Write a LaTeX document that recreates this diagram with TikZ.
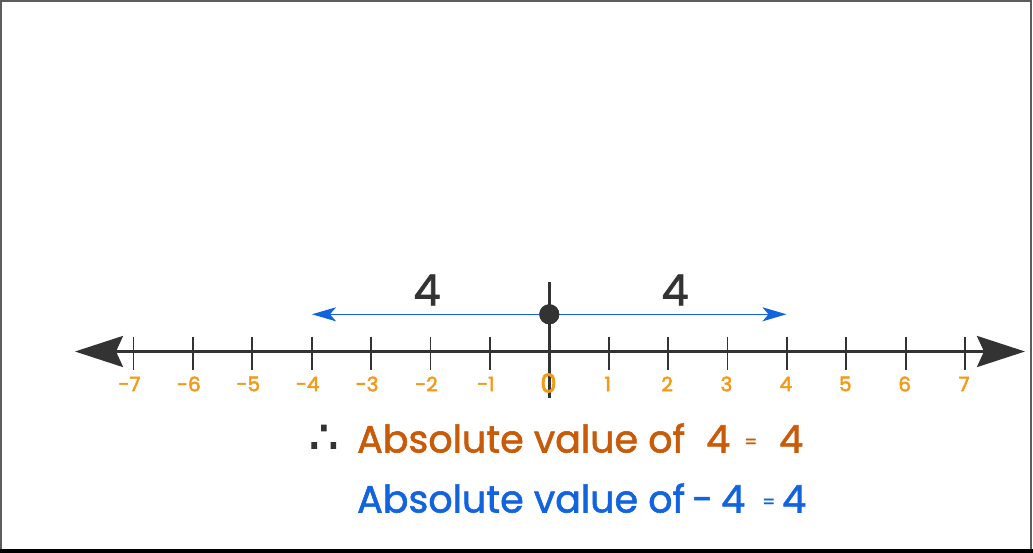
\documentclass[tikz,border=0pt]{standalone}
\usepackage{fontspec}
\setmainfont{Poppins}[FakeBold=1.6]
\newfontfamily\symfont{DejaVu Sans}[FakeBold=2]
\usetikzlibrary{arrows.meta}
\definecolor{axisgray}{RGB}{51,51,51}
\definecolor{numorange}{RGB}{243,154,24}
\definecolor{txtbrown}{RGB}{200,90,8}
\definecolor{txtblue}{RGB}{18,100,222}
\tikzset{
  axisline/.style={draw=axisgray,line width=3pt},
  tickmark/.style={draw=axisgray,line width=1.8pt},
  numlab/.style={text=numorange,font=\addfontfeature{FakeBold=2.5}\fontsize{20}{22}\selectfont,inner sep=0pt},
  distlab/.style={text=axisgray,font=\fontsize{43}{45}\selectfont,inner sep=0pt},
  bluearrow/.style={draw=txtblue,line width=1.6pt},
  brownline/.style={text=txtbrown,font=\fontsize{38}{40}\selectfont,inner sep=0pt,anchor=base west},
  blueline/.style={text=txtblue,font=\fontsize{38}{40}\selectfont,inner sep=0pt,anchor=base west},
}
\begin{document}
\begin{tikzpicture}[x=1pt,y=-1pt]
\useasboundingbox (0,0) rectangle (1033,553);
% frame
\draw[line width=2pt,draw=axisgray!80] (1,553) -- (1,1) -- (1031,1) -- (1031,553);
\draw[line width=4pt,draw=black] (0,551) -- (1033,551);
% axis
\coordinate (L) at (75,351.5);
\coordinate (R) at (1025,351.5);
\draw[axisline,{Stealth[length=48pt,width=31pt,inset=7pt]}-{Stealth[length=48pt,width=31pt,inset=7pt]}] (L) -- (R);
% ticks and labels
\foreach \k in {-7,...,7}{
  \ifnum\k=0\relax\else
  \coordinate (t\k a) at ({549.3+59.4*\k},336.5);
  \coordinate (t\k b) at ({549.3+59.4*\k},369.5);
  \draw[tickmark] (t\k a) -- (t\k b);
  \fi
}
\foreach \k in {-7,...,-1}{
  \node[numlab] (n\k) at ({549.3+59.4*\k-4},384) {-\the\numexpr-\k\relax};
}
\foreach \k in {1,...,7}{
  \node[numlab] (n\k) at ({549.3+59.4*\k-1},384) {\k};
}
% zero line
\coordinate (z1) at (549.3,282.5);
\coordinate (z2) at (549.3,398);
\draw[axisline,line width=3pt] (z1) -- (z2);
\node[numlab,font=\addfontfeature{FakeBold=2.5}\fontsize{26}{28}\selectfont] (n0) at (548.5,383) {0};
% blue arrows
\coordinate (bl) at (312,314.3);
\coordinate (br) at (786.5,314.3);
\node[circle,fill=axisgray,minimum size=20pt,inner sep=0pt] (O) at (549.3,314.3) {};
\draw[bluearrow,-{Stealth[length=24pt,width=14pt,inset=6pt]}] (O.center) -- (bl);
\draw[bluearrow,-{Stealth[length=24pt,width=14pt,inset=6pt]}] (O.center) -- (br);
\node[circle,fill=axisgray,minimum size=20pt,inner sep=0pt] at (O) {};
\node[distlab] (dl) at (427,290) {4};
\node[distlab] (dr) at (675,290) {4};
% bottom text
\node[text=axisgray,font=\symfont\fontsize{46}{48}\selectfont,inner sep=0pt,anchor=base west] (therefore) at (309,453) {∴};
\node[brownline] (l1) at (357,452.5) {Absolute value of};
\node[brownline] (l1a) at (706,452.5) {4};
\node[brownline,font=\fontsize{18}{20}\selectfont] (l1b) at (744,448) {=};
\node[brownline] (l1c) at (779,452.5) {4};
\node[blueline] (l2) at (357,512.5) {Absolute value of};
\node[blueline] (l2a) at (692,512.5) {-};
\node[blueline] (l2b) at (721,512.5) {4};
\node[blueline,font=\fontsize{18}{20}\selectfont] (l2c) at (762,508) {=};
\node[blueline] (l2d) at (782,512.5) {4};
\end{tikzpicture}
\end{document}
